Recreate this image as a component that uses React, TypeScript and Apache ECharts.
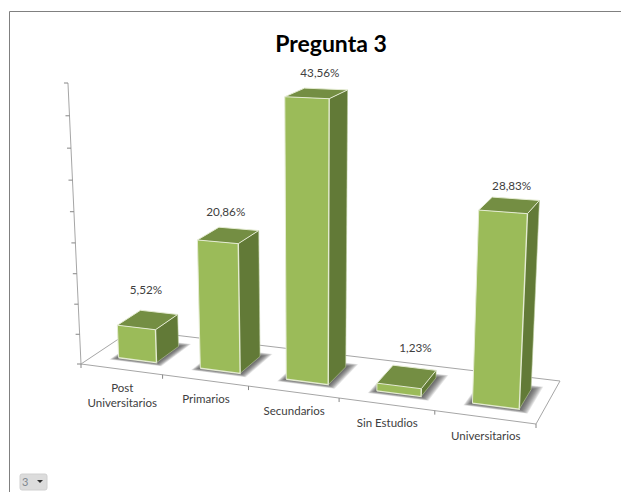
import React, { useEffect, useRef } from "react";
import * as echarts from "echarts";

const categories = ["Post\nUniversitarios", "Primarios", "Secundarios", "Sin Estudios", "Universitarios"];
const values = [5.52, 20.86, 43.56, 1.23, 28.83];
const valueLabels = ["5,52%", "20,86%", "43,56%", "1,23%", "28,83%"];
const yTicks = [0, 5, 10, 15, 20, 25, 30, 35, 40, 45];
const xTicks = [0, 1, 2, 3, 4, 5];

const Y_MAX = 45;
const GRID = 100; // the hidden grid spans 100x100 px, so its pixels read as fractions

// Floor quad on screen: front-left, front-right, back-right, back-left.
const FLOOR = [[81, 364], [536, 424], [560, 381], [132, 330]];
const VANISH = [312, 5347]; // where vertical edges meet below the chart
const RISE = -0.05338; // perspective change across the full value axis

const BAR_W = 0.47; // share of a category band
const BAR_SHIFT = 0.007; // bars sit slightly right of their band centre
const D0 = 0.26;
const D1 = 0.72;

// Per-bar label placement around the top of each bar, in px.
const LABEL_DX = [-13, -13, -6, 1, -4];
const LABEL_DY = [-23, -18, -17, -21, -14];

function makeFloorMatrix() {
  const [[x0, y0], [x1, y1], [x2, y2], [x3, y3]] = FLOOR;
  const dx1 = x1 - x2, dx2 = x3 - x2, dx3 = x0 - x1 + x2 - x3;
  const dy1 = y1 - y2, dy2 = y3 - y2, dy3 = y0 - y1 + y2 - y3;
  const den = dx1 * dy2 - dx2 * dy1;
  const g = (dx3 * dy2 - dx2 * dy3) / den;
  const h = (dx1 * dy3 - dx3 * dy1) / den;
  return { a: x1 - x0 + g * x1, b: x3 - x0 + h * x3, c: x0, d: y1 - y0 + g * y1, e: y3 - y0 + h * y3, f: y0, g, h };
}
const M = makeFloorMatrix();

// Projects (across, depth, height), each 0..1, to screen pixels.
function project(u: number, d: number, hf: number): number[] {
  const s = RISE * hf;
  const w = M.g * u + M.h * d + 1 + s;
  return [
    (M.a * u + M.b * d + M.c + s * VANISH[0]) / w,
    (M.d * u + M.e * d + M.f + s * VANISH[1]) / w,
  ];
}

const across = (api: any, band: number) => api.coord([0, 0])[0] / GRID + (band - 0.5) * (api.size([1, 0])[0] / GRID);
const height = (api: any, v: number) => 1 - api.coord([0, v])[1] / GRID;

const poly = (points: number[][], fill: string, stroke: string, lineWidth = 1) => ({
  type: "polygon",
  shape: { points },
  style: { fill, stroke, lineWidth },
});

const floorItem = () => ({
  type: "polygon",
  shape: { points: FLOOR },
  style: { fill: "#ffffff", stroke: "#a6a6a6", lineWidth: 1 },
});

const yTickItem = (_: any, api: any) => {
  const h = height(api, api.value(1));
  const p = project(0, 0, h);
  return { type: "line", shape: { x1: p[0] - 4, y1: p[1], x2: p[0], y2: p[1] }, style: { stroke: "#868686", lineWidth: 1 } };
};

const xTickItem = (_: any, api: any) => {
  const p = project(across(api, api.value(0)), 0, 0);
  return { type: "line", shape: { x1: p[0], y1: p[1], x2: p[0], y2: p[1] + 4 }, style: { stroke: "#868686", lineWidth: 1 } };
};

const yAxisLine = (_: any, api: any) => {
  const a = project(0, 0, 0);
  const b = project(0, 0, height(api, Y_MAX));
  return { type: "line", shape: { x1: a[0], y1: a[1], x2: b[0], y2: b[1] }, style: { stroke: "#a6a6a6", lineWidth: 1 } };
};

// Soft contact shadow: stacked translucent footprints, widest and faintest first.
const SHADOW_STEPS = [1, 0.9, 0.8, 0.7, 0.6, 0.5, 0.4, 0.3, 0.2, 0.1];
const shadowItem = (_: any, api: any) => {
  const c = across(api, api.value(0) + 0.5) + BAR_SHIFT;
  const hw = (BAR_W * (api.size([1, 0])[0] / GRID)) / 2;
  return {
    type: "group",
    children: SHADOW_STEPS.map((e) =>
      poly(
        [
          project(c - hw - e * 0.014, D0 - e * 0.07, 0),
          project(c + hw + e * 0.02, D0 - e * 0.07, 0),
          project(c + hw + e * 0.02, D1 + e * 0.1, 0),
          project(c - hw - e * 0.014, D1 + e * 0.1, 0),
        ],
        "rgba(60,60,60,0.13)",
        "none",
        0
      )
    ),
  };
};

const barItem = (_: any, api: any) => {
  const c = across(api, api.value(0) + 0.5) + BAR_SHIFT;
  const hw = (BAR_W * (api.size([1, 0])[0] / GRID)) / 2;
  const h = height(api, api.value(1));
  const l = c - hw, r = c + hw;
  const edge = "#e4ebd2";
  return {
    type: "group",
    children: [
      poly([project(r, D0, 0), project(r, D1, 0), project(r, D1, h), project(r, D0, h)], "#627a37", "none", 0),
      poly([project(l, D0, h), project(r, D0, h), project(r, D1, h), project(l, D1, h)], "#748e43", "none", 0),
      poly([project(l, D0, 0), project(r, D0, 0), project(r, D0, h), project(l, D0, h)], "#9bbb59", "none", 0),
      { type: "polyline", shape: { points: [project(l, D0, 0), project(l, D0, h), project(l, D1, h), project(r, D1, h), project(r, D0, h), project(l, D0, h)] }, style: { fill: "none", stroke: edge, lineWidth: 1 } },
      { type: "polyline", shape: { points: [project(l, D0, 0), project(r, D0, 0), project(r, D0, h)] }, style: { fill: "none", stroke: edge, lineWidth: 1.4 } },
      { type: "polyline", shape: { points: [project(r, D0, 0), project(r, D1, 0), project(r, D1, h)] }, style: { fill: "none", stroke: "#b9c99a", lineWidth: 0.6 } },
    ],
  };
};

const valueLabelItem = (_: any, api: any) => {
  const i = api.value(0);
  const c = across(api, i + 0.5) + BAR_SHIFT;
  const p = project(c, D1, height(api, api.value(1)));
  return {
    type: "text",
    x: p[0] + LABEL_DX[i],
    y: p[1] + LABEL_DY[i],
    style: { text: valueLabels[i], fill: "#404040", font: "11.7px Lato", align: "center", verticalAlign: "middle" },
  };
};

const categoryLabelItem = (_: any, api: any) => {
  const i = api.value(0);
  const p = project(across(api, i + 0.5), 0, 0);
  return {
    type: "text",
    x: p[0] + 1,
    y: p[1] + 11,
    style: { text: categories[i], fill: "#404040", font: "11.5px Lato", align: "center", verticalAlign: "top", lineHeight: 15 },
  };
};

const custom = (renderItem: any, data: any[], z: number) => ({
  type: "custom",
  coordinateSystem: "cartesian2d",
  renderItem,
  data,
  z,
  silent: true,
});

export default function App() {
  const ref = useRef<HTMLDivElement>(null);
  useEffect(() => {
    const chart = echarts.init(ref.current!, undefined, { renderer: "svg" });
    const barData = values.map((v, i) => [i, v]);
    chart.setOption({
      animation: false,
      backgroundColor: "#ffffff",
      title: {
        text: "Pregunta 3",
        left: 326,
        top: 26,
        textAlign: "center",
        textStyle: { fontFamily: "Lato", fontWeight: "bold", fontSize: 23, color: "#000000" },
      },
      grid: { left: 0, top: 0, width: GRID, height: GRID },
      xAxis: { type: "category", data: categories, show: false },
      yAxis: { type: "value", min: 0, max: Y_MAX, interval: 5, show: false },
      series: [
        custom(floorItem, [[0, 0]], 1),
        custom(yAxisLine, [[0, 0]], 2),
        custom(yTickItem, yTicks.map((v) => [0, v]), 2),
        custom(xTickItem, xTicks.map((v) => [v, 0]), 2),
        custom(shadowItem, barData, 3),
        custom(barItem, barData, 4),
        custom(valueLabelItem, barData, 5),
        custom(categoryLabelItem, barData, 5),
      ],
      graphic: [
        { type: "polyline", shape: { points: [[9.5, 492], [9.5, 11.5], [621, 11.5]] }, style: { fill: "none", stroke: "#808080", lineWidth: 1 }, z: 10 },
        { type: "rect", shape: { x: 20, y: 474, width: 27, height: 16, r: 2 }, style: { fill: "#dcdcdc", stroke: "#d0d0d0", lineWidth: 1 }, z: 10 },
        { type: "text", x: 22, y: 476, style: { text: "3", fill: "#808890", font: "11px Lato" }, z: 11 },
        { type: "polygon", shape: { points: [[37, 480], [43, 480], [40, 483]] }, style: { fill: "#303030" }, z: 11 },
      ],
    });
    return () => chart.dispose();
  }, []);
  return <div ref={ref} style={{ position: "fixed", left: 0, top: 0, width: 621, height: 492 }} />;
}
